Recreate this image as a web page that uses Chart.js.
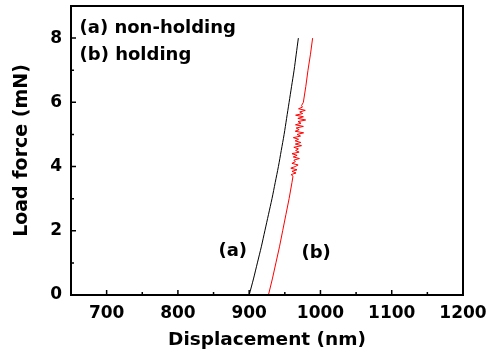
<!DOCTYPE html>
<html>
<head>
<meta charset="utf-8">
<script src="https://cdn.jsdelivr.net/npm/chart.js@4"></script>
<style>
  html, body { margin: 0; padding: 0; background: #fff; }
  #wrap { width: 495px; height: 355px; }
</style>
</head>
<body>
<div id="wrap"><canvas id="loadChart" width="495" height="355"></canvas></div>
<script>
// (a) non-holding curve
const dispA = [900, 906, 911.5, 917, 922, 927, 932, 936.5, 941, 945, 949, 952.5, 956, 959.5, 963, 966, 969];
const loadA = [0, 0.5, 1.0, 1.5, 2.0, 2.5, 3.0, 3.5, 4.0, 4.5, 5.0, 5.5, 6.0, 6.5, 7.0, 7.5, 8.0];

// (b) holding curve (noisy part between ~3.7 and ~5.9 mN)
const dispB = [927, 932.5, 937.5, 942.5, 947, 951.5, 956, 960, 961.5,
  958.8, 965.75, 960.05, 967.1, 958.4, 964.6, 968.65, 959.95, 964.75, 962.7,
  970.5, 961.8, 967.25, 960.05, 970.1, 965.15, 969.1, 962.65, 973.45, 964.75,
  972.45, 964.5, 969.3, 962.0, 972.05, 967.1, 976.4, 964.6, 970.15, 965.95,
  976.0, 964.95, 972.75, 968.55, 979.25, 968.3, 976.1, 965.15, 975.1, 970.9,
  978.7, 969.25, 974.7, 973.5, 976, 979.5, 982.5, 986, 989];
const loadB = [0, 0.5, 1.0, 1.5, 2.0, 2.5, 3.0, 3.5, 3.7,
  3.75, 3.8, 3.85, 3.9, 3.95, 4.0, 4.05, 4.1, 4.15, 4.2,
  4.25, 4.3, 4.35, 4.4, 4.45, 4.5, 4.55, 4.6, 4.65, 4.7,
  4.75, 4.8, 4.85, 4.9, 4.95, 5.0, 5.05, 5.1, 5.15, 5.2,
  5.25, 5.3, 5.35, 5.4, 5.45, 5.5, 5.55, 5.6, 5.65, 5.7,
  5.75, 5.8, 5.85, 5.9, 6.0, 6.5, 7.0, 7.5, 8.0];

const xTicks = [700, 800, 900, 1000, 1100, 1200];
const xMinor = [750, 850, 950, 1050, 1150];
const yTicks = [0, 2, 4, 6, 8];
const yMinor = [1, 3, 5, 7];

const labels = [
  { text: '(a) non-holding', x: 662, y: 8.3, align: 'left' },
  { text: '(b) holding', x: 662, y: 7.47, align: 'left' },
  { text: '(a)', x: 877, y: 1.37, align: 'center' },
  { text: '(b)', x: 994, y: 1.31, align: 'center' }
];

const FONT = '"DejaVu Sans", Arial, sans-serif';

function toPoints(xs, ys) {
  return xs.map((x, i) => ({ x: x, y: ys[i] }));
}

function noPad(s) {
  s.paddingTop = 0;
  s.paddingBottom = 0;
  s.paddingLeft = 0;
  s.paddingRight = 0;
}

// frame, inward ticks and text labels
const framePlugin = {
  id: 'frame',
  afterDraw(chart) {
    const ctx = chart.ctx;
    const a = chart.chartArea;
    const xs = chart.scales.x;
    const ys = chart.scales.y;
    ctx.save();
    ctx.strokeStyle = '#000';
    ctx.lineWidth = 1.5;
    ctx.beginPath();
    xTicks.forEach(v => {
      const p = xs.getPixelForValue(v);
      ctx.moveTo(p, a.bottom); ctx.lineTo(p, a.bottom - 5);
    });
    xMinor.forEach(v => {
      const p = xs.getPixelForValue(v);
      ctx.moveTo(p, a.bottom); ctx.lineTo(p, a.bottom - 3);
    });
    yTicks.forEach(v => {
      const p = ys.getPixelForValue(v);
      ctx.moveTo(a.left, p); ctx.lineTo(a.left + 5, p);
    });
    yMinor.forEach(v => {
      const p = ys.getPixelForValue(v);
      ctx.moveTo(a.left, p); ctx.lineTo(a.left + 3, p);
    });
    ctx.stroke();
    ctx.lineWidth = 2;
    ctx.strokeRect(a.left, a.top, a.right - a.left, a.bottom - a.top);

    ctx.fillStyle = '#000';
    ctx.font = 'bold 18px ' + FONT;
    ctx.textBaseline = 'middle';
    labels.forEach(l => {
      ctx.textAlign = l.align;
      ctx.fillText(l.text, xs.getPixelForValue(l.x), ys.getPixelForValue(l.y));
    });
    ctx.restore();
  }
};

new Chart(document.getElementById('loadChart'), {
  type: 'scatter',
  data: {
    datasets: [
      {
        label: '(a) non-holding',
        data: toPoints(dispA, loadA),
        showLine: true,
        borderColor: '#000000',
        borderWidth: 1,
        pointRadius: 0,
        tension: 0.3
      },
      {
        label: '(b) holding',
        data: toPoints(dispB, loadB),
        showLine: true,
        borderColor: '#ff0000',
        borderWidth: 1,
        pointRadius: 0,
        tension: 0
      }
    ]
  },
  options: {
    responsive: false,
    animation: false,
    layout: { padding: { top: 6, right: 32, left: 0, bottom: 0 } },
    plugins: { legend: { display: false }, tooltip: { enabled: false } },
    scales: {
      x: {
        type: 'linear',
        min: 650,
        max: 1200,
        afterBuildTicks: s => { s.ticks = xTicks.map(v => ({ value: v })); },
        afterFit: s => { s.height = 60; noPad(s); },
        grid: { display: false, drawTicks: false },
        border: { display: false },
        ticks: {
          color: '#000', padding: 8, maxRotation: 0,
          callback: v => String(v),
          font: { family: FONT, size: 17, weight: 'bold' }
        },
        title: {
          display: true,
          text: 'Displacement (nm)',
          color: '#000',
          padding: { top: 0, bottom: 4 },
          font: { family: FONT, size: 18.5, weight: 'bold' }
        }
      },
      y: {
        min: 0,
        max: 9,
        afterBuildTicks: s => { s.ticks = yTicks.map(v => ({ value: v })); },
        afterFit: s => { s.width = 71; noPad(s); },
        grid: { display: false, drawTicks: false },
        border: { display: false },
        ticks: {
          color: '#000', padding: 9,
          callback: v => String(v),
          font: { family: FONT, size: 17, weight: 'bold' }
        },
        title: {
          display: true,
          text: 'Load force (mN)',
          color: '#000',
          padding: { top: 11, bottom: 0 },
          font: { family: FONT, size: 19, weight: 'bold' }
        }
      }
    }
  },
  plugins: [framePlugin]
});
</script>
</body>
</html>
